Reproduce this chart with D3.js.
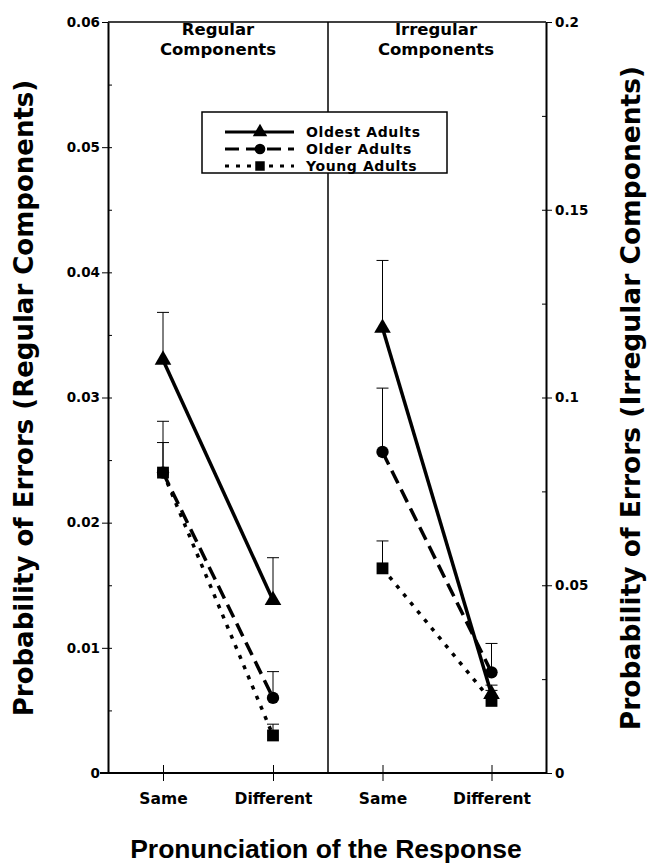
<!DOCTYPE html>
<html>
<meta charset='utf-8'>
<style>
  body{ margin:0; background:#fff }
  text{ font-family:'DejaVu Sans', sans-serif; font-weight:bold; fill:#000 }
  .axis path, .axis line{ stroke:#000 }
</style>
<body>
<script src='https://cdn.jsdelivr.net/npm/d3@7/dist/d3.min.js'></script>
<script>

  var groups = ['Oldest Adults', 'Older Adults', 'Young Adults']
  var conditions = ['Same', 'Different']

  // means per group: [Same, Different]
  var regularMean = [[0.033, 0.0138], [0.024, 0.006], [0.024, 0.003]]
  var regularUpper = [[0.0368, 0.0172], [0.0281, 0.0081], [0.0264, 0.0039]]
  var irregularMean = [[0.1185, 0.021], [0.0855, 0.0268], [0.0545, 0.0192]]
  var irregularUpper = [[0.1365, 0.022], [0.1025, 0.0345], [0.0618, 0.0234]]

  var leftTicks = [0, 0.01, 0.02, 0.03, 0.04, 0.05, 0.06]
  var rightTicks = [0, 0.05, 0.1, 0.15, 0.2]

  var dash = {'Oldest Adults': null, 'Older Adults': '14,7', 'Young Adults': '4,7'}
  var shape = {'Oldest Adults': d3.symbolTriangle, 'Older Adults': d3.symbolCircle, 'Young Adults': d3.symbolSquare}
  var shapeSize = {'Oldest Adults': 120, 'Older Adults': 120, 'Young Adults': 140}

  var svg = d3.select('body').append('svg').attr('width', 650).attr('height', 866)

  var L = 108, M = 328, R = 546, T = 22, B = 773

  var yLeft = d3.scaleLinear().domain([0, 0.06]).range([B, T])
  var yRight = d3.scaleLinear().domain([0, 0.2]).range([B, T])
  var xLeft = d3.scalePoint().domain(conditions).range([L, M]).padding(0.5)
  var xRight = d3.scalePoint().domain(conditions).range([M, R]).padding(0.5)

  // frame
  svg.append('line').attr('x1', L).attr('x2', R).attr('y1', T).attr('y2', T).attr('stroke', '#000').attr('stroke-width', 1.5)
  svg.append('line').attr('x1', 100).attr('x2', R).attr('y1', B).attr('y2', B).attr('stroke', '#000').attr('stroke-width', 2)
  svg.append('line').attr('x1', M).attr('x2', M).attr('y1', T).attr('y2', B).attr('stroke', '#000').attr('stroke-width', 1.5)

  function styleTicks(g, size){
    g.selectAll('text').attr('font-family', null).attr('font-size', null)
      .style('font-family', "'DejaVu Sans', sans-serif").style('font-weight', 'bold').style('font-size', size)
  }

  // y axes
  var fmt = d3.format('~g')
  var ga = svg.append('g').attr('class', 'axis').attr('transform', 'translate(' + L + ',0)')
  ga.call(d3.axisLeft(yLeft).tickValues(leftTicks).tickFormat(fmt).tickSize(6).tickSizeOuter(0).tickPadding(2))
  ga.select('.domain').attr('stroke-width', 2)
  styleTicks(ga, '13.5px')
  svg.append('g').attr('class', 'axis').attr('transform', 'translate(' + L + ',0)')
    .call(d3.axisRight(yLeft).tickValues(d3.range(0.005, 0.06, 0.005)).tickFormat('').tickSize(4).tickSizeOuter(0))
    .select('.domain').remove()

  var gb = svg.append('g').attr('class', 'axis').attr('transform', 'translate(' + R + ',0)')
  gb.call(d3.axisRight(yRight).tickValues(rightTicks).tickFormat(fmt).tickSize(6).tickSizeOuter(0).tickPadding(3))
  gb.select('.domain').attr('stroke-width', 2)
  styleTicks(gb, '13.5px')
  svg.append('g').attr('class', 'axis').attr('transform', 'translate(' + R + ',0)')
    .call(d3.axisLeft(yRight).tickValues(d3.range(0.025, 0.2, 0.025)).tickFormat('').tickSize(4).tickSizeOuter(0))
    .select('.domain').remove()

  // x axis ticks + labels
  ;[xLeft, xRight].forEach(function(x){
    var g = svg.append('g').attr('class', 'axis').attr('transform', 'translate(0,' + B + ')')
    g.call(d3.axisBottom(x).tickSize(8).tickSizeOuter(0).tickPadding(12))
    g.select('.domain').remove()
    g.selectAll('.tick line').attr('y1', -8)
    styleTicks(g, '15.5px')
  })

  // panel titles
  function title(cx, lines){
    lines.forEach(function(t, i){
      svg.append('text').attr('x', cx).attr('y', 35 + i * 20).attr('text-anchor', 'middle')
        .style('font-size', '16.5px').text(t)
    })
  }
  title((L + M) / 2, ['Regular', 'Components'])
  title((M + R) / 2 - 1, ['Irregular', 'Components'])

  // series
  function panel(x, y, mean, upper){
    groups.forEach(function(name, gi){
      var pts = conditions.map(function(c, ci){ return {c: c, v: mean[gi][ci], u: upper[gi][ci]} })
      pts.forEach(function(p){
        svg.append('line').attr('x1', x(p.c)).attr('x2', x(p.c)).attr('y1', y(p.v)).attr('y2', y(p.u))
          .attr('stroke', '#000').attr('stroke-width', 1)
        svg.append('line').attr('x1', x(p.c) - 6).attr('x2', x(p.c) + 6).attr('y1', y(p.u)).attr('y2', y(p.u))
          .attr('stroke', '#000').attr('stroke-width', 1)
      })
      svg.append('path').datum(pts)
        .attr('d', d3.line().x(function(p){ return x(p.c) }).y(function(p){ return y(p.v) }))
        .attr('fill', 'none').attr('stroke', '#000').attr('stroke-width', 3.5)
        .attr('stroke-dasharray', dash[name])
      pts.forEach(function(p){
        svg.append('path').attr('d', d3.symbol().type(shape[name]).size(shapeSize[name])())
          .attr('transform', 'translate(' + x(p.c) + ',' + y(p.v) + ')').attr('fill', '#000')
      })
    })
  }
  panel(xLeft, yLeft, regularMean, regularUpper)
  panel(xRight, yRight, irregularMean, irregularUpper)

  // legend
  var lg = svg.append('g')
  lg.append('rect').attr('x', 202).attr('y', 112).attr('width', 245).attr('height', 61)
    .attr('fill', '#fff').attr('stroke', '#000').attr('stroke-width', 1.5)
  groups.forEach(function(name, i){
    var yy = 132 + i * 17
    lg.append('line').attr('x1', 225).attr('x2', 294).attr('y1', yy).attr('y2', yy)
      .attr('stroke', '#000').attr('stroke-width', 3).attr('stroke-dasharray', dash[name])
    lg.append('path').attr('d', d3.symbol().type(shape[name]).size(90)())
      .attr('transform', 'translate(260,' + yy + ')').attr('fill', '#000')
    lg.append('text').attr('x', 306).attr('y', yy + 5).style('font-size', '14px')
      .style('letter-spacing', '0.6px').text(name)
  })

  // axis titles
  svg.append('text').attr('transform', 'translate(33,' + 398 + ') rotate(-90)')
    .attr('text-anchor', 'middle').style('font-size', '26px').text('Probability of Errors (Regular Components)')
  svg.append('text').attr('transform', 'translate(640,' + 398 + ') rotate(-90)')
    .attr('text-anchor', 'middle').style('font-size', '26.5px').text('Probability of Errors  (Irregular Components)')
  svg.append('text').attr('x', 326).attr('y', 858).attr('text-anchor', 'middle')
    .style('font-family', "'Liberation Sans', Arial, sans-serif").style('font-size', '26.5px')
    .text('Pronunciation of the Response')
</script>
</body>
</html>
